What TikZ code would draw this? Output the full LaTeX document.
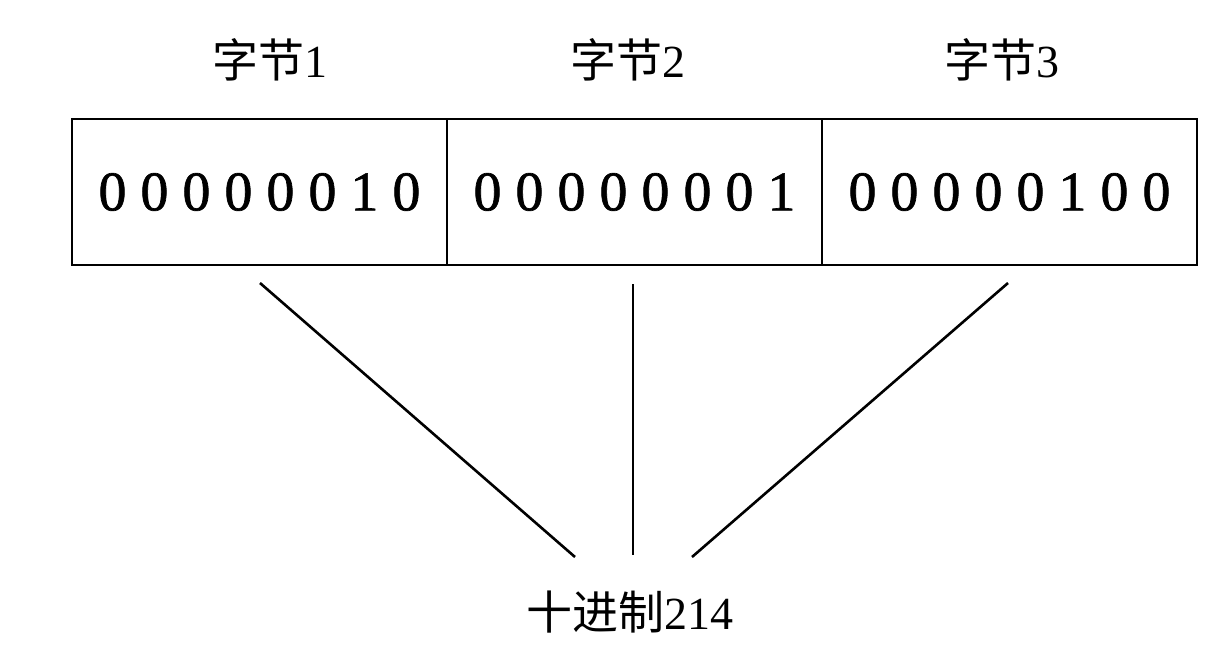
\documentclass[tikz,border=0pt]{standalone}
\usepackage{fontspec}
\setmainfont{Liberation Serif}
\newfontfamily\cjk{Noto Sans CJK SC}
\newfontfamily\digitfont[FakeBold=1.2]{Liberation Serif}
\newcommand\bits[1]{\bitsloop#1\relax}
\def\bitsloop#1{\ifx#1\relax\else\makebox[21pt]{#1}\expandafter\bitsloop\fi}
\begin{document}
\begin{tikzpicture}[x=0.5pt,y=-0.5pt,
  cell/.style={draw,line width=1.3pt,minimum width=187.5pt,minimum height=73pt,inner sep=0pt,font=\digitfont\fontsize{28}{30}\selectfont},
  lbl/.style={inner sep=0pt,font=\fontsize{23}{26}\selectfont},
  conn/.style={line width=1.3pt}]
\useasboundingbox (0,0) rectangle (1214,670);
\node[cell] (b1) at (259.5,192) {\bits{00000010}};
\node[cell] (b2) at (634.5,192) {\bits{00000001}};
\node[cell] (b3) at (1009.5,192) {\bits{00000100}};
\node[lbl] (l1) at (270,60) {{\cjk 字节}1};
\node[lbl] (l2) at (628,60) {{\cjk 字节}2};
\node[lbl] (l3) at (1002,60) {{\cjk 字节}3};
\node[lbl] (dec) at (630,612) {{\cjk 十进制}214};
\coordinate (s1) at (260,283);
\coordinate (s2) at (633,284);
\coordinate (s3) at (1008,283);
\coordinate (e1) at (575,557);
\coordinate (e2) at (633,555);
\coordinate (e3) at (692,557);
\draw[conn] (s1) -- (e1);
\draw[conn] (s2) -- (e2);
\draw[conn] (s3) -- (e3);
\end{tikzpicture}
\end{document}
